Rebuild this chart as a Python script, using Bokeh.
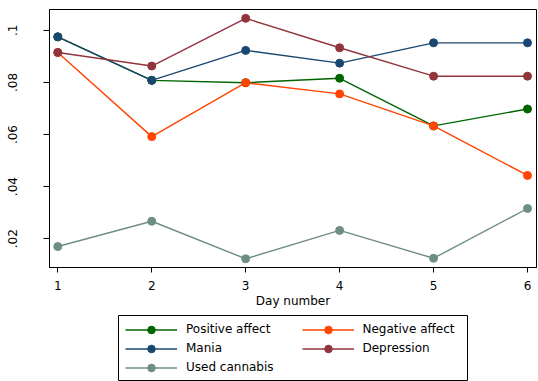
from bokeh.plotting import figure
from bokeh.models import Range1d, FixedTicker, Legend, LegendItem
from bokeh.layouts import column
from bokeh.embed import file_html
from bokeh.resources import INLINE

days = [1, 2, 3, 4, 5, 6]
positive_affect = [0.0975, 0.0808, 0.0799, 0.0816, 0.0633, 0.0698]
negative_affect = [0.0915, 0.0592, 0.0799, 0.0756, 0.0633, 0.0443]
mania = [0.0975, 0.0808, 0.0923, 0.0874, 0.0952, 0.0952]
depression = [0.0915, 0.0863, 0.1046, 0.0933, 0.0824, 0.0824]
used_cannabis = [0.0170, 0.0267, 0.0123, 0.0232, 0.0125, 0.0316]

series_names = ["Positive affect", "Negative affect", "Mania", "Depression", "Used cannabis"]
series_values = [positive_affect, negative_affect, mania, depression, used_cannabis]
series_colors = ["#006400", "#ff4500", "#1a476f", "#90353b", "#6e8e84"]

y_ticks = [0.02, 0.04, 0.06, 0.08, 0.1]
y_tick_labels = [".02", ".04", ".06", ".08", ".1"]
x_title = "Day number"

FONT = "DejaVu Sans"

p = figure(width=538, height=310, output_backend="svg", toolbar_location=None,
           x_range=Range1d(0.9117, 6.0957), y_range=Range1d(0.00895, 0.1080),
           min_border_left=49, min_border_right=2, min_border_top=9, min_border_bottom=41,
           frame_align=False)
p.background_fill_color = "white"
p.border_fill_color = "white"
p.outline_line_color = "black"
p.outline_line_width = 1
p.grid.visible = False

for vals, col in zip(series_values, series_colors):
    p.line(days, vals, line_color=col, line_width=1.4)
    p.scatter(days, vals, size=8, fill_color=col, line_color=col)

p.xaxis.ticker = FixedTicker(ticks=days)
p.xaxis.axis_label = x_title
p.xaxis.axis_label_text_font = FONT
p.xaxis.axis_label_text_font_size = "12px"
p.xaxis.axis_label_text_font_style = "normal"
p.xaxis.axis_label_standoff = 1
p.xaxis.major_label_standoff = 8
p.xaxis.major_tick_out = 5
p.xaxis.major_tick_in = 0
p.xaxis.minor_tick_line_color = None

p.yaxis.ticker = FixedTicker(ticks=y_ticks)
p.yaxis.major_label_overrides = {t: l for t, l in zip(y_ticks, y_tick_labels)}
p.yaxis.major_label_orientation = "vertical"
p.yaxis.major_label_standoff = 26
p.yaxis.major_tick_out = 6
p.yaxis.major_tick_in = 0
p.yaxis.minor_tick_line_color = None

for ax in (p.xaxis, p.yaxis):
    ax.axis_line_color = "black"
    ax.major_tick_line_color = "black"
    ax.major_label_text_font = FONT
    ax.major_label_text_font_size = "12px"
    ax.major_label_text_color = "black"
    ax.axis_label_text_color = "black"

# legend figure (its view range lies away from the data, so only the legend glyphs show)
lg = figure(width=538, height=71, output_backend="svg", toolbar_location=None,
            x_range=Range1d(100, 101), y_range=Range1d(100, 101),
            x_axis_location=None, y_axis_location=None,
            min_border_left=118, min_border_right=71, min_border_top=5, min_border_bottom=1,
            frame_align=False)
lg.grid.visible = False
lg.outline_line_color = "black"
lg.outline_line_width = 1
lg.background_fill_color = "white"
lg.border_fill_color = "white"

items = []
for name, vals, col in zip(series_names, series_values, series_colors):
    r1 = lg.line(days, vals, line_color=col, line_width=1.4)
    r2 = lg.scatter(days, vals, size=8, fill_color=col, line_color=col)
    items.append(LegendItem(label=name, renderers=[r1, r2]))

def make_legend(its, loc):
    leg = Legend(items=its, location=loc, orientation="vertical",
                 glyph_width=52, glyph_height=19, label_height=19, label_standoff=9,
                 spacing=0, padding=0, margin=0,
                 border_line_color=None, background_fill_alpha=0,
                 label_text_font=FONT, label_text_font_size="12px", label_text_color="black")
    return leg

leg1 = make_legend([items[0], items[2], items[4]], (7, 3.5))
leg2 = make_legend([items[1], items[3]], (183.5, 22.5))
lg.add_layout(leg1, "center")
lg.add_layout(leg2, "center")

layout = column(p, lg, spacing=0)
open("out.html", "w").write(file_html(layout, INLINE))
